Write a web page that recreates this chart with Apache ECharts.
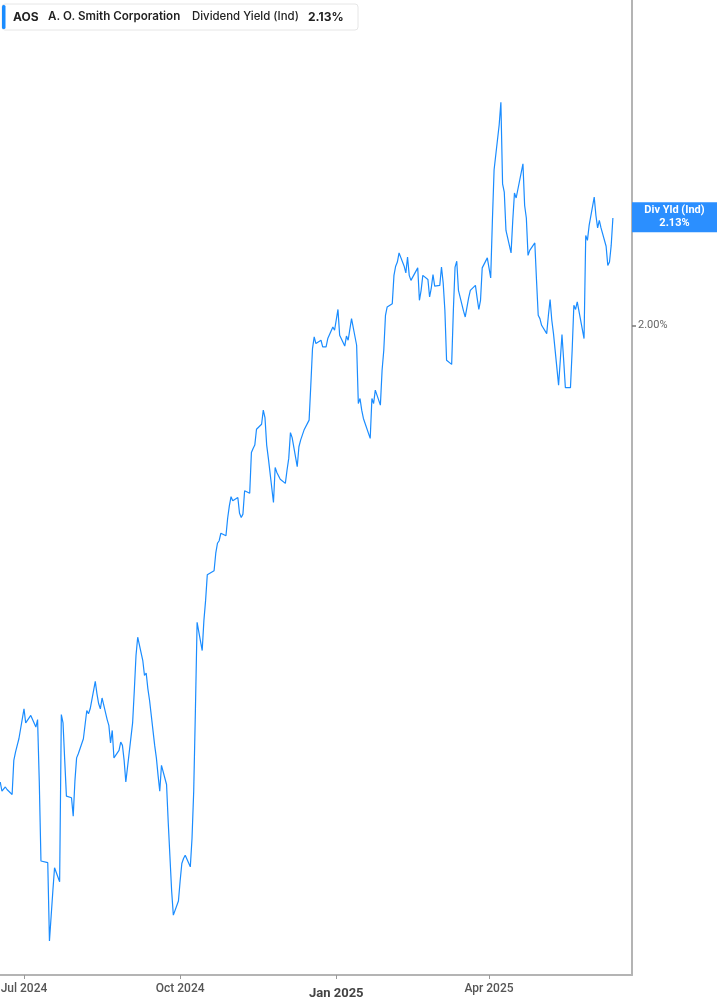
<!DOCTYPE html>
<html>
<head>
<meta charset="utf-8">
<title>AOS Dividend Yield</title>
<script src="https://cdn.jsdelivr.net/npm/echarts@6/dist/echarts.min.js"></script>
<style>
  html, body { margin: 0; padding: 0; background: #fff; }
  #main { width: 717px; height: 1005px; }
</style>
</head>
<body>
<div id="main"></div>
<script>
// trading days per month
const months = ['2024-06', '2024-07', '2024-08', '2024-09', '2024-10', '2024-11', '2024-12',
  '2025-01', '2025-02', '2025-03', '2025-04', '2025-05', '2025-06'];

const days = [
  [17, 18, 20, 21, 24, 25, 26, 27, 28],
  [1, 2, 3, 5, 8, 9, 10, 11, 12, 15, 16, 17, 18, 19, 22, 23, 24, 25, 26, 29, 30, 31],
  [1, 2, 5, 6, 7, 8, 9, 12, 13, 14, 15, 16, 19, 20, 21, 22, 23, 26, 27, 28, 29, 30],
  [3, 4, 5, 6, 9, 10, 11, 12, 13, 16, 17, 18, 19, 20, 23, 24, 25, 26, 27, 30],
  [1, 2, 3, 4, 7, 8, 9, 10, 11, 14, 15, 16, 17, 18, 21, 22, 23, 24, 25, 28, 29, 30, 31],
  [1, 4, 5, 6, 7, 8, 11, 12, 13, 14, 15, 18, 19, 20, 21, 22, 25, 26, 27, 29],
  [2, 3, 4, 5, 6, 9, 10, 11, 12, 13, 16, 17, 18, 19, 20, 23, 24, 26, 27, 30, 31],
  [2, 3, 6, 7, 8, 10, 13, 14, 15, 16, 17, 21, 22, 23, 24, 27, 28, 29, 30, 31],
  [3, 4, 5, 6, 7, 10, 11, 12, 13, 14, 18, 19, 20, 21, 24, 25, 26, 27, 28],
  [3, 4, 5, 6, 7, 10, 11, 12, 13, 14, 17, 18, 19, 20, 21, 24, 25, 26, 27, 28, 31],
  [1, 2, 3, 4, 7, 8, 9, 10, 11, 14, 15, 16, 17, 21, 22, 23, 24, 25, 28, 29, 30],
  [1, 2, 5, 6, 7, 8, 9, 12, 13, 14, 15, 16, 19, 20, 21, 22, 23, 27, 28, 29, 30],
  [2, 3, 4, 5, 6, 9, 10, 11, 12, 13]
];

// dividend yield (%), same order as days
const yields = [
  [1.451, 1.440, 1.445, 1.442, 1.436, 1.477, 1.487, 1.495, 1.503],
  [1.539, 1.522, 1.520, 1.531, 1.517, 1.526, 1.452, 1.356, 1.354, 1.354, 1.260, 1.290, 1.320, 1.348, 1.331, 1.532, 1.522, 1.477, 1.434, 1.432, 1.410, 1.452],
  [1.480, 1.485, 1.503, 1.503, 1.537, 1.533, 1.539, 1.572, 1.557, 1.545, 1.539, 1.552, 1.526, 1.519, 1.498, 1.513, 1.480, 1.489, 1.499, 1.495, 1.477, 1.451],
  [1.522, 1.561, 1.603, 1.625, 1.597, 1.579, 1.582, 1.563, 1.549, 1.495, 1.480, 1.459, 1.440, 1.471, 1.448, 1.402, 1.401, 1.320, 1.291, 1.308],
  [1.332, 1.353, 1.359, 1.363, 1.349, 1.383, 1.440, 1.537, 1.643, 1.609, 1.645, 1.669, 1.700, 1.700, 1.705, 1.726, 1.738, 1.741, 1.750, 1.747, 1.768, 1.783, 1.794],
  [1.789, 1.793, 1.774, 1.769, 1.773, 1.801, 1.798, 1.847, 1.852, 1.856, 1.875, 1.881, 1.898, 1.889, 1.856, 1.840, 1.787, 1.829, 1.823, 1.815],
  [1.810, 1.826, 1.840, 1.871, 1.865, 1.830, 1.854, 1.862, 1.868, 1.874, 1.886, 1.928, 1.972, 1.986, 1.978, 1.982, 1.974, 1.974, 1.984, 1.998, 1.994],
  [2.019, 1.988, 1.975, 1.987, 1.982, 2.008, 1.976, 1.906, 1.912, 1.898, 1.888, 1.864, 1.912, 1.906, 1.922, 1.904, 1.946, 1.970, 2.012, 2.022],
  [2.026, 2.060, 2.071, 2.076, 2.087, 2.071, 2.063, 2.082, 2.060, 2.054, 2.069, 2.030, 2.042, 2.060, 2.055, 2.034, 2.045, 2.061, 2.047],
  [2.048, 2.070, 2.051, 2.018, 1.958, 1.953, 2.018, 2.070, 2.077, 2.042, 2.017, 2.010, 2.011, 2.033, 2.042, 2.048, 2.033, 2.019, 2.030, 2.069, 2.081],
  [2.069, 2.057, 2.126, 2.187, 2.241, 2.268, 2.170, 2.160, 2.114, 2.087, 2.126, 2.159, 2.153, 2.194, 2.144, 2.129, 2.084, 2.090, 2.099, 2.054, 2.012],
  [2.008, 2.000, 1.990, 2.012, 2.031, 2.006, 1.990, 1.928, 1.958, 1.989, 1.958, 1.925, 1.925, 1.970, 2.024, 2.019, 2.028, 1.984, 2.108, 2.102, 2.120],
  [2.154, 2.132, 2.117, 2.126, 2.117, 2.095, 2.072, 2.076, 2.096, 2.129]
];

const tickDates = ['2024-07-01', '2024-10-01', '2025-01-01', '2025-04-01'];
const tickLabels = ['Jul 2024', 'Oct 2024', 'Jan 2025', 'Apr 2025'];
const yLabelValues = [2.00];

const DAY = 86400000;

function toTime(s) {
	let p = s.split('-').map(Number);
	return new Date(p[0], p[1] - 1, p[2]).getTime();
}

function pad(n) {
	return n < 10 ? '0' + n : '' + n;
}

let seriesData = [];
for (let i = 0; i < months.length; i++) {
	for (let j = 0; j < days[i].length; j++) {
		seriesData.push([toTime(months[i] + '-' + pad(days[i][j])), yields[i][j]]);
	}
}
let lastValue = seriesData[seriesData.length - 1][1];
let tickTimes = tickDates.map(toTime);

// x range: first day sits at the left edge
let xMin = toTime('2024-06-17') - 0.14 * DAY;
let xMax = xMin + 372.4 * DAY;

let myChart = echarts.init(document.getElementById('main'));

let option = {
	backgroundColor: '#fff',
	animation: false,
	grid: { left: 0, right: 85, top: 0, bottom: 30, outerBoundsMode: 'none' },
	xAxis: {
		type: 'value',
		min: xMin,
		max: xMax,
		scale: true,
		splitLine: { show: false },
		axisLine: { onZero: false, lineStyle: { color: '#b4b4b4', width: 2 } },
		axisTick: {
			customValues: tickTimes,
			length: 4,
			lineStyle: { color: '#999', width: 1 }
		},
		axisLabel: {
			customValues: tickTimes,
			margin: 8,
			formatter: function (val) {
				let idx = -1;
				for (let k = 0; k < tickTimes.length; k++) {
					if (Math.abs(tickTimes[k] - val) < DAY / 2) idx = k;
				}
				if (idx < 0) return '';
				let txt = tickLabels[idx];
				return txt.indexOf('Jan') === 0 ? '{yr|' + txt + '}' : '{mo|' + txt + '}';
			},
			rich: {
				mo: { fontFamily: 'Roboto', fontSize: 12, fontWeight: 500, color: '#555' },
				yr: { fontFamily: 'Roboto', fontSize: 13, fontWeight: 'bold', color: '#444', padding: [4, 0, 0, 0] }
			}
		}
	},
	yAxis: {
		type: 'value',
		position: 'right',
		min: 1.219,
		max: 2.391,
		scale: true,
		splitLine: { show: false },
		axisLine: { show: true, lineStyle: { color: '#b4b4b4', width: 2 } },
		axisTick: {
			show: true,
			customValues: yLabelValues,
			length: 4,
			lineStyle: { color: '#777', width: 1.5 }
		},
		axisLabel: {
			customValues: yLabelValues,
			margin: 6,
			color: '#666',
			fontFamily: 'Roboto',
			fontSize: 11,
			formatter: function (v) { return v.toFixed(2) + '%'; }
		}
	},
	series: [
		{
			name: 'Div Yld (Ind)',
			type: 'line',
			data: seriesData,
			showSymbol: false,
			symbol: 'none',
			clip: false,
			lineStyle: { color: '#1a8cff', width: 1.2 },
			itemStyle: { color: '#1a8cff' },
			markLine: {
				silent: true,
				symbol: ['none', 'none'],
				lineStyle: { color: 'rgba(0,0,0,0)', width: 0 },
				label: {
					show: true,
					position: 'end',
					distance: 42.5,
					align: 'center',
					verticalAlign: 'middle',
					width: 85,
					padding: [2, 0, 2, 0],
					lineHeight: 13,
					opacity: 1,
					backgroundColor: '#2b8fff',
					color: '#fff',
					fontFamily: 'Roboto',
					fontSize: 11,
					fontWeight: 'bold',
					formatter: 'Div Yld (Ind)\n' + lastValue.toFixed(2) + '%'
				},
				data: [{ yAxis: lastValue }]
			}
		}
	],
	graphic: [
		{
			type: 'rect',
			shape: { x: 2, y: 4, width: 356, height: 26, r: 3 },
			style: { fill: '#fff', stroke: '#e6e6e6', lineWidth: 1 },
			z: 10
		},
		{
			type: 'rect',
			shape: { x: 2, y: 5, width: 3.5, height: 24, r: 1.5 },
			style: { fill: '#1a8cff' },
			z: 11
		},
		{
			type: 'text', x: 13, y: 17, z: 11,
			style: { text: 'AOS', fill: '#222', font: 'bold 12px Inter', verticalAlign: 'middle' }
		},
		{
			type: 'text', x: 48, y: 17, z: 11,
			style: { text: 'A. O. Smith Corporation', fill: '#222', font: '600 11.6px Inter', verticalAlign: 'middle' }
		},
		{
			type: 'text', x: 192, y: 17, z: 11,
			style: { text: 'Dividend Yield (Ind)', fill: '#222', font: '500 11.4px Inter', verticalAlign: 'middle' }
		},
		{
			type: 'text', x: 308, y: 17, z: 11,
			style: { text: lastValue.toFixed(2) + '%', fill: '#222', font: 'bold 12px Inter', verticalAlign: 'middle' }
		}
	]
};

myChart.setOption(option);
window.onresize = myChart.resize;
</script>
</body>
</html>
